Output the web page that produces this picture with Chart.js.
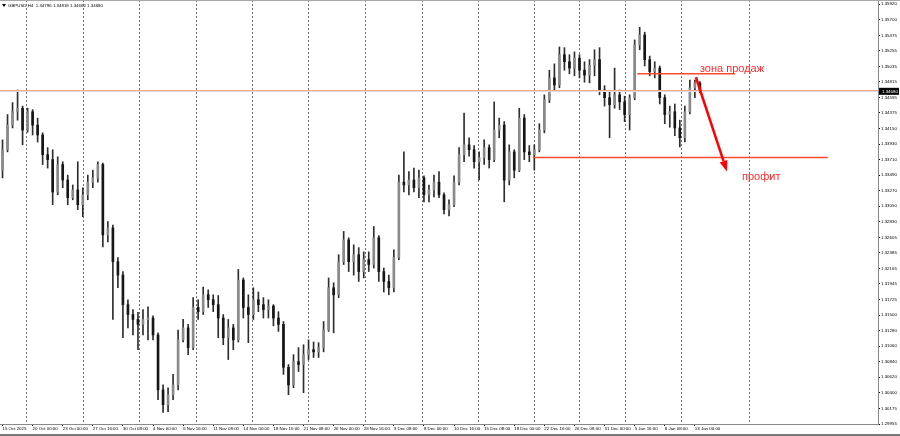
<!DOCTYPE html>
<html>
<head>
<meta charset="utf-8">
<script src="https://cdn.jsdelivr.net/npm/chart.js@4.4.1/dist/chart.umd.min.js"></script>
<style>
  html, body { margin: 0; padding: 0; background: #fff; }
  #wrap { position: relative; width: 900px; height: 436px; }
</style>
</head>
<body>
<div id="wrap"><canvas id="chart" width="900" height="436"></canvas></div>
<script>
const SYMBOL = 'GBPUSD,H4';

// one date label every LABEL_STEP candles
const LABEL_STEP = 6;
const dateLabels = [
  '15 Oct 2025', '20 Oct 00:00', '23 Oct 00:00', '27 Oct 16:00', '30 Oct 08:00',
  '4 Nov 00:00', '6 Nov 16:00', '11 Nov 08:00', '14 Nov 00:00', '18 Nov 16:00',
  '21 Nov 08:00', '26 Nov 00:00', '28 Nov 16:00', '3 Dec 08:00', '8 Dec 00:00',
  '10 Dec 16:00', '15 Dec 08:00', '18 Dec 00:00', '22 Dec 16:00', '26 Dec 08:00',
  '31 Dec 00:00', '5 Jan 16:00', '8 Jan 08:00', '13 Jan 00:00'
];

const opens = [
  1.3356, 1.3385, 1.3420, 1.3439, 1.3444, 1.3413, 1.3439, 1.3420, 1.3406, 1.3378,
  1.3371, 1.3325, 1.3364, 1.3342, 1.3317, 1.3328, 1.3307, 1.3321, 1.3339, 1.3345,
  1.3364, 1.3264, 1.3274, 1.3226, 1.3207, 1.3165, 1.3151, 1.3144, 1.3137, 1.3144,
  1.3146, 1.3122, 1.3044, 1.3023, 1.3037, 1.3051, 1.3115, 1.3132, 1.3104, 1.3161,
  1.3155, 1.3179, 1.3172, 1.3165, 1.3146, 1.3118, 1.3132, 1.3115, 1.3200, 1.3161,
  1.3151, 1.3172, 1.3165, 1.3158, 1.3163, 1.3146, 1.3137, 1.3076, 1.3051, 1.3084,
  1.3080, 1.3094, 1.3101, 1.3098, 1.3104, 1.3129, 1.3189, 1.3179, 1.3226, 1.3257,
  1.3226, 1.3236, 1.3212, 1.3229, 1.3222, 1.3260, 1.3212, 1.3198, 1.3189, 1.3232,
  1.3339, 1.3335, 1.3342, 1.3331, 1.3345, 1.3321, 1.3328, 1.3339, 1.3321, 1.3300,
  1.3307, 1.3339, 1.3378, 1.3392, 1.3385, 1.3368, 1.3374, 1.3388, 1.3371, 1.3413,
  1.3420, 1.3342, 1.3382, 1.3356, 1.3430, 1.3382, 1.3378, 1.3385, 1.3413, 1.3456,
  1.3487, 1.3477, 1.3520, 1.3510, 1.3501, 1.3515, 1.3498, 1.3491, 1.3505, 1.3513,
  1.3470, 1.3459, 1.3449, 1.3463, 1.3453, 1.3435, 1.3459, 1.3534, 1.3548, 1.3513,
  1.3496, 1.3501, 1.3459, 1.3435, 1.3439, 1.3416, 1.3402, 1.3439, 1.3473, 1.34796
];
const highs = [
  1.3399, 1.3435, 1.3452, 1.3470, 1.3447, 1.3444, 1.3442, 1.3430, 1.3409, 1.3388,
  1.3385, 1.3375, 1.3368, 1.3349, 1.3335, 1.3368, 1.3331, 1.3349, 1.3356, 1.3368,
  1.3366, 1.3283, 1.3278, 1.3232, 1.3212, 1.3172, 1.3158, 1.3154, 1.3158, 1.3162,
  1.3149, 1.3125, 1.3051, 1.3047, 1.3066, 1.3129, 1.3144, 1.3137, 1.3175, 1.3172,
  1.3190, 1.3186, 1.3179, 1.3178, 1.3151, 1.3144, 1.3137, 1.3215, 1.3203, 1.3179,
  1.3189, 1.3183, 1.3175, 1.3172, 1.3165, 1.3155, 1.3141, 1.3080, 1.3094, 1.3104,
  1.3108, 1.3115, 1.3112, 1.3111, 1.3141, 1.3203, 1.3196, 1.3236, 1.3269, 1.3260,
  1.3250, 1.3246, 1.3240, 1.3240, 1.3276, 1.3263, 1.3217, 1.3207, 1.3243, 1.3349,
  1.3382, 1.3354, 1.3359, 1.3356, 1.3348, 1.3335, 1.3349, 1.3354, 1.3324, 1.3314,
  1.3348, 1.3388, 1.3437, 1.3402, 1.3391, 1.3382, 1.3399, 1.3392, 1.3453, 1.3430,
  1.3425, 1.3392, 1.3385, 1.3444, 1.3435, 1.3391, 1.3392, 1.3422, 1.3463, 1.3498,
  1.3507, 1.3531, 1.3530, 1.3520, 1.3524, 1.3520, 1.3510, 1.3513, 1.3527, 1.3530,
  1.3476, 1.3467, 1.3501, 1.3470, 1.3461, 1.3463, 1.3541, 1.3559, 1.3552, 1.3518,
  1.3510, 1.3504, 1.3463, 1.3447, 1.3450, 1.3427, 1.3447, 1.3484, 1.3484, 1.34818
];
const lows = [
  1.3345, 1.3382, 1.3416, 1.3427, 1.3392, 1.3410, 1.3406, 1.3396, 1.3364, 1.3359,
  1.3307, 1.3321, 1.3331, 1.3307, 1.3314, 1.3300, 1.3290, 1.3314, 1.3331, 1.3339,
  1.3247, 1.3254, 1.3144, 1.3189, 1.3118, 1.3132, 1.3122, 1.3101, 1.3122, 1.3115,
  1.3115, 1.3030, 1.3012, 1.3013, 1.3030, 1.3044, 1.3112, 1.3094, 1.3101, 1.3144,
  1.3151, 1.3161, 1.3155, 1.3118, 1.3108, 1.3087, 1.3101, 1.3112, 1.3146, 1.3111,
  1.3144, 1.3155, 1.3146, 1.3146, 1.3135, 1.3127, 1.3066, 1.3037, 1.3047, 1.3070,
  1.3040, 1.3087, 1.3090, 1.3090, 1.3098, 1.3127, 1.3125, 1.3175, 1.3222, 1.3212,
  1.3207, 1.3198, 1.3203, 1.3212, 1.3217, 1.3198, 1.3183, 1.3179, 1.3183, 1.3229,
  1.3325, 1.3321, 1.3325, 1.3317, 1.3311, 1.3311, 1.3318, 1.3317, 1.3294, 1.3291,
  1.3304, 1.3335, 1.3368, 1.3376, 1.3359, 1.3342, 1.3364, 1.3359, 1.3368, 1.3402,
  1.3311, 1.3335, 1.3345, 1.3354, 1.3371, 1.3368, 1.3356, 1.3382, 1.3409, 1.3452,
  1.3470, 1.3473, 1.3498, 1.3493, 1.3490, 1.3487, 1.3481, 1.3480, 1.3490, 1.3463,
  1.3447, 1.3402, 1.3444, 1.3442, 1.3425, 1.3413, 1.3456, 1.3527, 1.3504, 1.3490,
  1.3487, 1.3450, 1.3422, 1.3417, 1.3405, 1.3389, 1.3396, 1.3436, 1.3459, 1.34662
];
const closes = [
  1.3385, 1.3420, 1.3439, 1.3444, 1.3413, 1.3439, 1.3420, 1.3406, 1.3378, 1.3371,
  1.3325, 1.3364, 1.3342, 1.3317, 1.3328, 1.3307, 1.3321, 1.3339, 1.3345, 1.3364,
  1.3264, 1.3274, 1.3226, 1.3207, 1.3165, 1.3151, 1.3144, 1.3137, 1.3144, 1.3146,
  1.3122, 1.3044, 1.3023, 1.3037, 1.3051, 1.3115, 1.3132, 1.3104, 1.3161, 1.3155,
  1.3179, 1.3172, 1.3165, 1.3146, 1.3118, 1.3132, 1.3115, 1.3200, 1.3161, 1.3151,
  1.3172, 1.3165, 1.3158, 1.3163, 1.3146, 1.3137, 1.3076, 1.3051, 1.3084, 1.3080,
  1.3094, 1.3101, 1.3098, 1.3104, 1.3129, 1.3189, 1.3179, 1.3226, 1.3257, 1.3226,
  1.3236, 1.3212, 1.3229, 1.3222, 1.3260, 1.3212, 1.3198, 1.3189, 1.3232, 1.3339,
  1.3335, 1.3342, 1.3331, 1.3345, 1.3321, 1.3328, 1.3339, 1.3321, 1.3300, 1.3307,
  1.3339, 1.3378, 1.3392, 1.3385, 1.3368, 1.3374, 1.3388, 1.3371, 1.3413, 1.3420,
  1.3342, 1.3382, 1.3356, 1.3430, 1.3382, 1.3378, 1.3385, 1.3413, 1.3456, 1.3487,
  1.3477, 1.3520, 1.3510, 1.3501, 1.3515, 1.3498, 1.3491, 1.3505, 1.3513, 1.3470,
  1.3459, 1.3449, 1.3463, 1.3453, 1.3435, 1.3459, 1.3534, 1.3548, 1.3513, 1.3496,
  1.3501, 1.3459, 1.3435, 1.3439, 1.3416, 1.3402, 1.3439, 1.3473, 1.3480, 1.34680
];

// right-hand price scale
const priceTicks = [
  1.35920, 1.35700, 1.35475, 1.35255, 1.35035, 1.34815, 1.34595, 1.34375, 1.34150, 1.33930,
  1.33710, 1.33490, 1.33270, 1.33050, 1.32830, 1.32605, 1.32385, 1.32165, 1.31945, 1.31725,
  1.31500, 1.31280, 1.31060, 1.30840, 1.30620, 1.30400, 1.30175, 1.29955
];
const PRICE_MIN = 1.29955;
const PRICE_MAX = 1.35977;

// week separators, in candle units
const weekLines = [4.7, 16, 27.2, 38.6, 49.7, 60.9, 72.3, 83.6, 94.8, 105.9, 114.9, 124.1, 135.2, 148.8];

// free space to the right of the last candle
const SLOTS = 175;

// hand drawn marks
const sellZone = { from: 126.5, to: 146, price: 1.3493 };
const profitLine = { from: 105.7, to: 164.5, price: 1.3374 };
const arrowFrom = { x: 138.2, price: 1.3488 };
const arrowTo = { x: 144.4, price: 1.3354 };
const notes = [
  { text: 'зона продаж', x: 139, price: 1.3500 },
  { text: 'профит', x: 147.4, price: 1.3346 }
];

const lastIdx = closes.length - 1;
const categories = Array.from({ length: SLOTS }, (_, i) =>
  i % LABEL_STEP === 0 && i / LABEL_STEP < dateLabels.length ? dateLabels[i / LABEL_STEP] : '');

const SMALL = '4.4px "Liberation Sans"';

const overlay = {
  id: 'overlay',
  beforeDatasetsDraw(chart) {
    const { ctx, chartArea: a, scales: { x } } = chart;
    ctx.save();
    ctx.strokeStyle = '#707070';
    ctx.lineWidth = 1;
    ctx.setLineDash([2, 2]);
    weekLines.forEach(w => {
      const px = Math.round(x.getPixelForValue(w)) + 0.5;
      ctx.beginPath();
      ctx.moveTo(px, a.top);
      ctx.lineTo(px, a.bottom);
      ctx.stroke();
    });
    ctx.restore();
  },
  afterDatasetsDraw(chart) {
    const { ctx, chartArea: a, scales: { x, y } } = chart;
    ctx.save();
    // bid line
    const py = Math.round(y.getPixelForValue(closes[lastIdx]));
    ctx.fillStyle = '#f5a887';
    ctx.fillRect(a.left, py - 1, a.right - a.left, 1);
    ctx.fillStyle = '#dcdcdc';
    ctx.fillRect(a.left, py, a.right - a.left, 1);

    // sell zone and profit levels
    ctx.strokeStyle = '#ff4b2b';
    ctx.lineWidth = 1.5;
    [sellZone, profitLine].forEach(l => {
      const ly = y.getPixelForValue(l.price);
      ctx.beginPath();
      ctx.moveTo(x.getPixelForValue(l.from), ly);
      ctx.lineTo(x.getPixelForValue(l.to), ly);
      ctx.stroke();
    });

    // arrow
    const x1 = x.getPixelForValue(arrowFrom.x), y1 = y.getPixelForValue(arrowFrom.price);
    const x2 = x.getPixelForValue(arrowTo.x), y2 = y.getPixelForValue(arrowTo.price);
    const ang = Math.atan2(y2 - y1, x2 - x1);
    const head = 11, half = 4;
    const bx = x2 - head * Math.cos(ang), by = y2 - head * Math.sin(ang);
    ctx.strokeStyle = '#ff0000';
    ctx.fillStyle = '#ff0000';
    ctx.lineWidth = 2.5;
    ctx.beginPath();
    ctx.moveTo(x1, y1);
    ctx.lineTo(bx, by);
    ctx.stroke();
    ctx.beginPath();
    ctx.moveTo(x2, y2);
    ctx.lineTo(bx + half * Math.sin(ang), by - half * Math.cos(ang));
    ctx.lineTo(bx - half * Math.sin(ang), by + half * Math.cos(ang));
    ctx.closePath();
    ctx.fill();

    // notes
    ctx.fillStyle = '#ff2a2a';
    ctx.font = '11px "Liberation Sans"';
    ctx.textBaseline = 'middle';
    notes.forEach(n => ctx.fillText(n.text, x.getPixelForValue(n.x), y.getPixelForValue(n.price)));
    ctx.restore();
  },
  afterDraw(chart) {
    const { ctx, chartArea: a, scales: { y } } = chart;
    ctx.save();
    // window frame
    ctx.fillStyle = '#a8a8a8';
    ctx.fillRect(0, 0, chart.width, 1);
    ctx.fillStyle = '#7a7a7a';
    ctx.fillRect(0, chart.height - 2, chart.width, 2);

    // title: symbol and last bar O H L C
    ctx.font = SMALL;
    ctx.fillStyle = '#000';
    ctx.textBaseline = 'middle';
    ctx.beginPath();
    ctx.moveTo(2, 4); ctx.lineTo(6, 4); ctx.lineTo(4, 7);
    ctx.closePath();
    ctx.fill();
    const ohlc = [opens, highs, lows, closes].map(s => s[lastIdx].toFixed(5)).join(' ');
    ctx.fillText(SYMBOL + '  ' + ohlc, 8, 5.5);

    // last price box on the scale
    const py = y.getPixelForValue(closes[lastIdx]);
    ctx.fillStyle = '#000';
    ctx.fillRect(a.right + 1, py - 3.5, chart.width - a.right - 2, 7);
    ctx.fillStyle = '#fff';
    ctx.fillText(closes[lastIdx].toFixed(5), a.right + 4, py);
    ctx.restore();
  }
};

new Chart(document.getElementById('chart'), {
  type: 'bar',
  data: {
    labels: categories,
    datasets: [
      {
        label: 'body',
        data: opens.map((o, i) => [o, closes[i]]),
        backgroundColor: c => (closes[c.dataIndex] >= opens[c.dataIndex] ? '#8a8a8a' : '#161616'),
        barThickness: 2,
        minBarLength: 1,
        grouped: false,
        order: 0
      },
      {
        label: 'wick',
        data: lows.map((l, i) => [l, highs[i]]),
        backgroundColor: '#2e2e2e',
        barThickness: 1,
        grouped: false,
        order: 1
      }
    ]
  },
  options: {
    responsive: false,
    animation: false,
    devicePixelRatio: 1,
    layout: { padding: 0 },
    plugins: { legend: { display: false }, tooltip: { enabled: false } },
    scales: {
      x: {
        offset: true,
        grid: { drawOnChartArea: false, offset: false, tickLength: 2, color: '#000' },
        border: { color: '#8a8a8a' },
        ticks: {
          autoSkip: false, maxRotation: 0, minRotation: 0, align: 'start', padding: 0,
          color: '#000', font: { family: 'Liberation Sans', size: 4.4 }
        },
        afterBuildTicks: s => { s.ticks = s.ticks.filter(t => categories[t.value]); },
        afterFit: s => { s.height = 12; s.paddingLeft = 0; s.paddingRight = 0; }
      },
      y: {
        position: 'right',
        min: PRICE_MIN,
        max: PRICE_MAX,
        grid: { drawOnChartArea: false, tickLength: 2, color: '#000' },
        border: { color: '#8a8a8a' },
        ticks: {
          padding: 1, color: '#000', font: { family: 'Liberation Sans', size: 4.4 },
          callback: v => v.toFixed(5)
        },
        afterBuildTicks: s => { s.ticks = priceTicks.map(v => ({ value: v })); },
        afterFit: s => { s.width = 22; s.paddingTop = 0; s.paddingBottom = 0; }
      }
    }
  },
  plugins: [overlay]
});
</script>
</body>
</html>
